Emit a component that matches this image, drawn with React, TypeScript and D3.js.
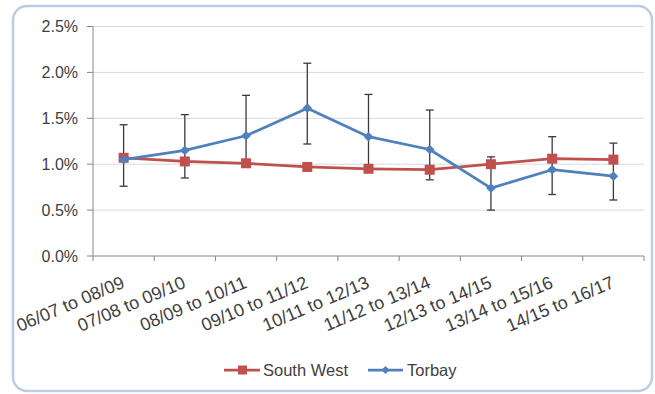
import React from 'react'
import * as d3 from 'd3'

// chart values (percent)
const categories = [
  '06/07 to 08/09', '07/08 to 09/10', '08/09 to 10/11', '09/10 to 11/12', '10/11 to 12/13',
  '11/12 to 13/14', '12/13 to 14/15', '13/14 to 15/16', '14/15 to 16/17',
]
const southWest = [1.07, 1.03, 1.01, 0.97, 0.95, 0.94, 1.0, 1.06, 1.05]
const torbay = [1.05, 1.15, 1.31, 1.61, 1.3, 1.16, 0.74, 0.94, 0.87]
const torbayLow = [0.76, 0.85, 1.0, 1.22, 0.96, 0.83, 0.5, 0.67, 0.61]
const torbayHigh = [1.43, 1.54, 1.75, 2.1, 1.76, 1.59, 1.08, 1.3, 1.23]
const yTicks = [0, 0.5, 1.0, 1.5, 2.0, 2.5]

const W = 655
const H = 394
const margin = { top: 26.5, right: 11, bottom: 138, left: 93 }
const RED = '#c0504d'
const BLUE = '#4f81bd'
const TEXT = '#404040'
const FONT = '"Liberation Sans", Arial, sans-serif'

export default function App() {
  const x = d3.scaleBand<string>()
    .domain(categories)
    .range([margin.left, W - margin.right])
    .padding(0)
  const y = d3.scaleLinear()
    .domain([0, 2.5])
    .range([H - margin.bottom, margin.top])
  const cx = (c: string) => (x(c) ?? 0) + x.bandwidth() / 2
  const fmt = (v: number) => d3.format('.1f')(v) + '%'

  const line = d3.line<number>()
    .x((_, i) => cx(categories[i]))
    .y((d) => y(d))

  const x0 = margin.left
  const x1 = W - margin.right
  const yBase = y(0)

  return (
    <svg width={W} height={H} style={{ position: 'absolute', left: 0, top: 0, background: '#fff' }}
      fontFamily={FONT}>
      {/* chart frame */}
      <rect x={13} y={6} width={639} height={385} rx={14} fill="#fff" stroke="#b9cde5" strokeWidth={2.5} />

      {/* gridlines */}
      {yTicks.filter((t) => t > 0).map((t) => (
        <line key={t} x1={x0} x2={x1} y1={y(t)} y2={y(t)} stroke="#d9d9d9" strokeWidth={1} />
      ))}

      {/* y axis */}
      <line x1={x0} x2={x0} y1={y(2.5)} y2={yBase} stroke="#868686" />
      {yTicks.map((t) => (
        <g key={t}>
          <line x1={x0 - 6} x2={x0} y1={y(t)} y2={y(t)} stroke="#868686" />
          <text x={x0 - 15} y={y(t)} dy="0.35em" textAnchor="end" fontSize={16} fill={TEXT}>
            {fmt(t)}
          </text>
        </g>
      ))}

      {/* x axis */}
      <line x1={x0} x2={x1} y1={yBase} y2={yBase} stroke="#868686" />
      {[...categories.map((c) => x(c) ?? 0), x1].map((p, i) => (
        <line key={i} x1={p} x2={p} y1={yBase} y2={yBase + 5} stroke="#868686" />
      ))}
      {categories.map((c) => (
        <text key={c} transform={`translate(${cx(c) + 2},${yBase + 31}) rotate(-23)`}
          textAnchor="end" fontSize={18} fill={TEXT}>
          {c}
        </text>
      ))}

      {/* Torbay error bars */}
      {categories.map((c, i) => (
        <g key={c} stroke="#3a3a3a" strokeWidth={1.3}>
          <line x1={cx(c)} x2={cx(c)} y1={y(torbayHigh[i])} y2={y(torbayLow[i])} />
          <line x1={cx(c) - 4} x2={cx(c) + 4} y1={y(torbayHigh[i])} y2={y(torbayHigh[i])} />
          <line x1={cx(c) - 4} x2={cx(c) + 4} y1={y(torbayLow[i])} y2={y(torbayLow[i])} />
        </g>
      ))}

      {/* South West */}
      <path d={line(southWest) ?? ''} fill="none" stroke={RED} strokeWidth={2.75} strokeLinejoin="round" />
      {categories.map((c, i) => (
        <rect key={c} x={cx(c) - 5} y={y(southWest[i]) - 5} width={10} height={10} fill={RED} />
      ))}

      {/* Torbay */}
      <path d={line(torbay) ?? ''} fill="none" stroke={BLUE} strokeWidth={2.75} strokeLinejoin="round" />
      {categories.map((c, i) => (
        <path key={c} d={d3.symbol(d3.symbolDiamond2, 60)() ?? ''}
          transform={`translate(${cx(c)},${y(torbay[i])})`} fill={BLUE} />
      ))}

      {/* legend */}
      <g transform="translate(0,370)">
        <line x1={224} x2={260} stroke={RED} strokeWidth={2.75} />
        <rect x={238} y={-4.5} width={9} height={9} fill={RED} />
        <text x={263} dy="0.36em" fontSize={16.5} fill={TEXT}>South West</text>
        <line x1={368} x2={403} stroke={BLUE} strokeWidth={2.75} />
        <path d={d3.symbol(d3.symbolDiamond2, 40)() ?? ''} transform="translate(385.5,0)" fill={BLUE} />
        <text x={407} dy="0.36em" fontSize={16.5} fill={TEXT}>Torbay</text>
      </g>
    </svg>
  )
}
